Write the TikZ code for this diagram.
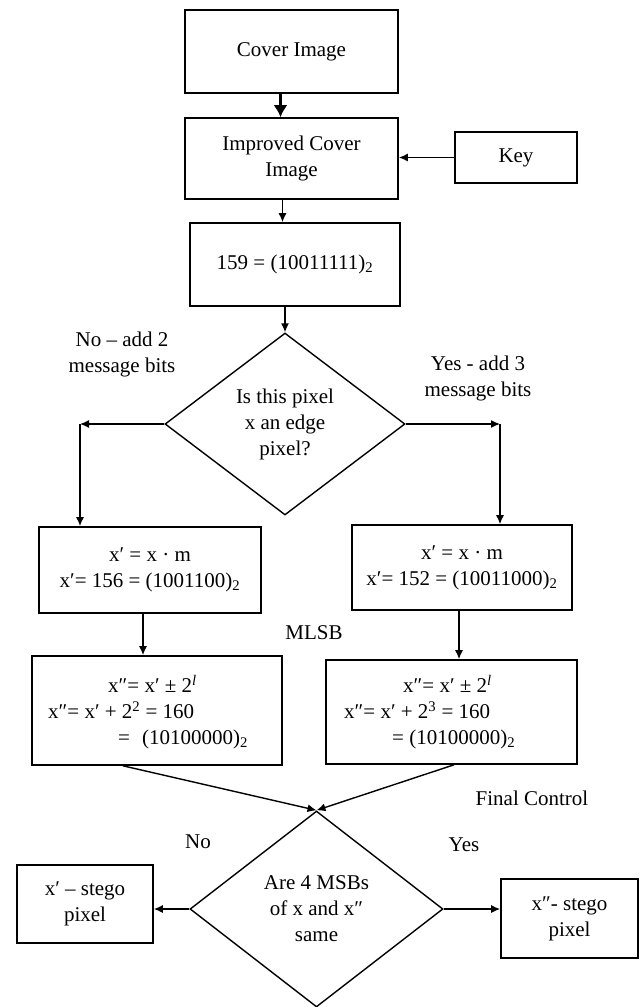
\documentclass[tikz,border=0pt]{standalone}
\usepackage{fontspec}
\setmainfont{Liberation Serif}
\usetikzlibrary{shapes.geometric,arrows.meta}
\begin{document}
\begin{tikzpicture}[x=1pt,y=-1pt,
        box/.style={draw,line width=1.6pt,rectangle,inner sep=0pt,align=center,font=\fontsize{21}{26}\selectfont},
        choice/.style={draw,line width=1.4pt,diamond,inner sep=0pt,align=center,font=\fontsize{21}{26}\selectfont},
        note/.style={inner sep=0pt,align=center,font=\fontsize{21}{26}\selectfont},
        flow/.style={line width=1.4pt,-{Latex[length=9pt,width=8pt]}}]
        \useasboundingbox (0,0) rectangle (641,1007);
        %% Nodes
        \node[box,minimum width=213,minimum height=83] (cover) at (291.5,51.5) {Cover Image};
        \node[box,minimum width=213,minimum height=81] (improved) at (291.5,158.5) {Improved Cover\\Image};
        \node[box,minimum width=122,minimum height=51] (key) at (516,157.5) {Key};
        \node[box,minimum width=210,minimum height=83] (pixel) at (295,264.5) {159 = (10011111)\textsubscript{2}};
        \node[choice,minimum width=240,minimum height=182] (edge) at (285,424) {Is this pixel\\x an edge\\pixel?};
        \node[box,minimum width=222,minimum height=86] (keepL) at (150,570) {x′ = x · m\\x′= 156 = (1001100)\textsubscript{2}};
        \node[box,minimum width=220,minimum height=85] (keepR) at (462,567.5) {x′ = x · m\\x′= 152 = (10011000)\textsubscript{2}};
        \node[box,minimum width=250,minimum height=109] (mlsbL) at (157,710.5) {};
        \node[box,minimum width=251,minimum height=104] (mlsbR) at (451.5,712) {};
        \node[note,anchor=west,align=left] (mlsbLtext) at (48,712) {\hspace*{60pt}x″= x′ ± 2\textsuperscript{\itshape l}\\x″= x′ + 2\textsuperscript{2} = 160\\\hspace*{70pt}=\hspace*{12pt}(10100000)\textsubscript{2}};
        \node[note,anchor=west,align=left] (mlsbRtext) at (344,712) {\hspace*{59pt}x″= x′ ± 2\textsuperscript{\itshape l}\\x″= x′ + 2\textsuperscript{3} = 160\\\hspace*{48pt}= (10100000)\textsubscript{2}};
        \node[choice,minimum width=253,minimum height=196] (final) at (316.5,909) {Are 4 MSBs\\of x and x″\\same};
        \node[box,minimum width=136,minimum height=78] (stegoL) at (85,904) {x′ – stego\\pixel};
        \node[box,minimum width=137,minimum height=79] (stegoR) at (569.5,918.5) {x″- stego\\pixel};
        %% Labels
        \node[note] (nolabel) at (122,354) {No – add 2\\message bits};
        \node[note] (yeslabel) at (478,378) {Yes - add 3\\message bits};
        \node[note] (mlsb) at (314,633) {MLSB};
        \node[note] (control) at (532,798) {Final Control};
        \node[note] (no) at (198,842) {No};
        \node[note] (yes) at (464,845) {Yes};
        %% Lines
        \coordinate (noturn) at (80,424);
        \coordinate (yesturn) at (500,424);
        \draw[line width=3.5pt,-{Latex[length=12pt,width=14pt]}] ([xshift=-11]cover.south) -- ([xshift=-11]improved.north);
        \draw[flow] (key.west) -- (key.west -| improved.east);
        \draw[flow] ([xshift=-9]improved.south) -- ([xshift=-9]improved.south |- pixel.north);
        \draw[flow] (pixel.south -| edge.north) -- (edge.north);
        \draw[flow] (edge.west) -- (noturn);
        \draw[flow] (noturn) -- (noturn |- keepL.north);
        \draw[flow] (edge.east) -- (yesturn);
        \draw[flow] (yesturn) -- (yesturn |- keepR.north);
        \draw[flow] ([xshift=-7]keepL.south) -- ([xshift=-7]keepL.south |- mlsbL.north);
        \draw[flow] ([xshift=-3]keepR.south) -- ([xshift=-3]keepR.south |- mlsbR.north);
        \draw[flow] ([xshift=-34]mlsbL.south) -- (final.north);
        \draw[flow] ([xshift=2.5]mlsbR.south) -- (final.north);
        \draw[flow] (final.west) -- (final.west -| stegoL.east);
        \draw[flow] (final.east) -- (final.east -| stegoR.west);
\end{tikzpicture}
\end{document}
